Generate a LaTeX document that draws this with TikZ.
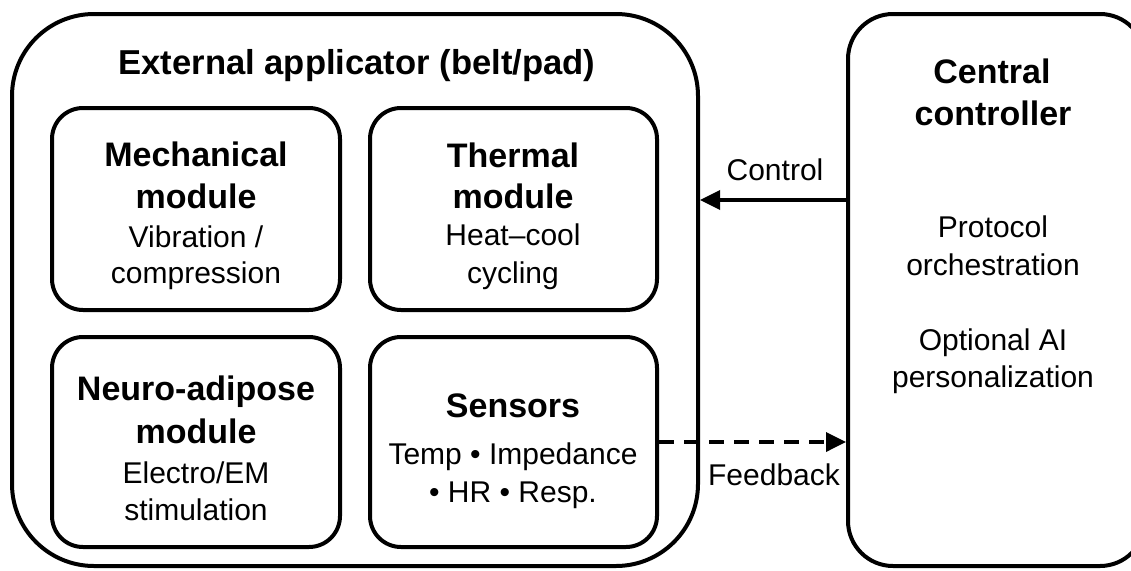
\documentclass[tikz,border=0pt]{standalone}
\usepackage{fontspec}
\setmainfont{Liberation Sans}
\usetikzlibrary{arrows.meta}
\tikzset{
  bigbox/.style={draw=black, line width=4pt, rounded corners=82pt, inner sep=0pt},
  ctrlbox/.style={draw=black, line width=4pt, rounded corners=45pt, inner sep=0pt},
  modbox/.style={draw=black, line width=4pt, rounded corners=31pt, inner sep=0pt},
  head/.style={anchor=base, inner sep=0pt, font=\fontsize{34}{40}\selectfont\bfseries},
  body/.style={anchor=base, inner sep=0pt, font=\fontsize{30}{36}\selectfont},
  arr/.style={line width=3.5pt, -{Triangle[length=20pt,width=19pt]}},
}
\begin{document}
\begin{tikzpicture}[x=1pt,y=-1pt]
\useasboundingbox (0,0) rectangle (1131,570);
% boxes
\node[bigbox, minimum width=686pt, minimum height=552pt] (app) at (355,290) {};
\node[ctrlbox, minimum width=297pt, minimum height=552pt] (ctrl) at (996.5,290) {};
\node[modbox, minimum width=288pt, minimum height=202pt] (mech) at (196,209) {};
\node[modbox, minimum width=287pt, minimum height=202pt] (therm) at (513.5,209) {};
\node[modbox, minimum width=288pt, minimum height=210pt] (neuro) at (196,442) {};
\node[modbox, minimum width=287pt, minimum height=210pt] (sens) at (513.5,442) {};
% title
\node[head, font=\fontsize{34.6}{40}\selectfont\bfseries] (apptitle) at (357,74) {External applicator (belt/pad)};
% mechanical
\node[head] (mech1) at (196,166) {Mechanical};
\node[head] (mech2) at (196,208) {module};
\node[body] (mech3) at (196,247) {Vibration /};
\node[body] (mech4) at (196,283) {compression};
% thermal
\node[head] (therm1) at (513,167) {Thermal};
\node[head] (therm2) at (513,208) {module};
\node[body] (therm3) at (513,245) {Heat–cool};
\node[body] (therm4) at (513,283) {cycling};
% neuro
\node[head] (neuro1) at (196,400) {Neuro-adipose};
\node[head] (neuro2) at (196,443) {module};
\node[body] (neuro3) at (196,483) {Electro/EM};
\node[body] (neuro4) at (196,520) {stimulation};
% sensors
\node[head] (sens1) at (513,417) {Sensors};
\node[body] (sens2) at (513,464) {Temp • Impedance};
\node[body] (sens3) at (513,502) {• HR • Resp.};
% controller
\node[head] (ctrl1) at (992,83) {Central};
\node[head] (ctrl2) at (993,125) {controller};
\node[body] (ctrl3) at (993,237) {Protocol};
\node[body] (ctrl4) at (993,275) {orchestration};
\node[body] (ctrl5) at (993,350) {Optional AI};
\node[body] (ctrl6) at (993,387) {personalization};
% connectors
\coordinate (cpt) at (0,200);
\coordinate (fpt) at (0,442);
\draw[arr] (ctrl.west |- cpt) -- (app.east |- cpt);
\draw[arr, dash pattern=on 15pt off 10pt] (sens.east |- fpt) -- (ctrl.west |- fpt);
\node[body] (clab) at (775,180) {Control};
\node[body] (flab) at (774,485) {Feedback};
\end{tikzpicture}
\end{document}
